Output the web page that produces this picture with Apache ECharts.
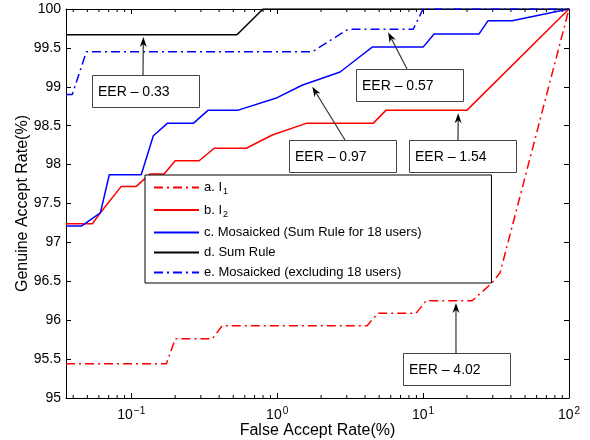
<!DOCTYPE html>
<html>
<head>
<meta charset="utf-8">
<script src="https://cdn.jsdelivr.net/npm/echarts@6/dist/echarts.min.js"></script>
<style>
html,body{margin:0;padding:0;background:#fff;}
#chart{width:590px;height:440px;}
</style>
</head>
<body>
<div id="chart"></div>
<script>
// ---- data ----
var seriesNames = ['a. I{sub|1}', 'b. I{sub|2}', 'c. Mosaicked (Sum Rule for 18 users)', 'd. Sum Rule', 'e. Mosaicked (excluding 18 users)'];

var aX = [0.0357, 0.174, 0.200, 0.359, 0.420, 4.13, 4.92, 8.96, 10.5, 21.7, 29.7, 33.7, 100];
var aY = [95.44, 95.44, 95.76, 95.76, 95.93, 95.93, 96.09, 96.09, 96.25, 96.25, 96.48, 96.61, 100];

var bX = [0.0357, 0.0541, 0.0614, 0.0854, 0.108, 0.135, 0.168, 0.200, 0.292, 0.370, 0.614, 0.925, 1.58, 4.55, 5.58, 20.0, 100];
var bY = [97.24, 97.24, 97.38, 97.72, 97.72, 97.88, 97.88, 98.05, 98.05, 98.21, 98.21, 98.38, 98.53, 98.53, 98.70, 98.70, 100];

var cX = [0.0357, 0.0455, 0.0614, 0.0707, 0.117, 0.1416, 0.1766, 0.266, 0.337, 0.541, 1.0, 1.48, 2.70, 3.59, 4.48, 10.0, 11.9, 24.2, 27.9, 40.7, 100];
var cY = [97.21, 97.21, 97.38, 97.87, 97.87, 98.37, 98.53, 98.53, 98.70, 98.70, 98.86, 99.02, 99.19, 99.37, 99.51, 99.51, 99.68, 99.68, 99.85, 99.85, 100];

var dX = [0.0357, 0.53, 0.80, 100];
var dY = [99.67, 99.67, 100, 100];

var eX = [0.0357, 0.0394, 0.0492, 1.74, 3.06, 8.55, 10.0, 100];
var eY = [98.90, 98.90, 99.45, 99.45, 99.74, 99.74, 100, 100];

var xMin = 0.0357, xMax = 100;
var yMin = 95, yMax = 100, yInterval = 0.5;

var minorTickValues = [0.04,0.05,0.06,0.07,0.08,0.09, 0.2,0.3,0.4,0.5,0.6,0.7,0.8,0.9, 2,3,4,5,6,7,8,9, 20,30,40,50,60,70,80,90];

var annTexts = ['EER \u2013 0.33', 'EER \u2013 0.57', 'EER \u2013 0.97', 'EER \u2013 1.54', 'EER \u2013 4.02'];
var annTargetX = [0.121, 5.76, 1.74, 17.4, 16.8];
var annTargetY = [99.64, 99.70, 99.00, 98.66, 96.22];

// ---- layout (pixels) ----
var annBoxes = [[92,75],[356,69],[289,140],[409,140],[403,353]];
var annArrowStartX = [143, 407, 345, 458, 456];
var boxW = 107, boxH = 32;

function zip(xs, ys){ var r=[]; for(var i=0;i<xs.length;i++) r.push([xs[i], ys[i]]); return r; }

var FONT = '"Liberation Sans", Arial, Helvetica, sans-serif';

var chart = echarts.init(document.getElementById('chart'), null, {renderer:'canvas'});

var dashDot = [9,4,2,4];

var option = {
  animation: false,
  backgroundColor: '#fff',
  textStyle: {fontFamily: FONT, color:'#000'},
  grid: {left: 66, right: 21, top: 9, bottom: 42, containLabel: false, outerBoundsMode: 'none'},
  legend: {
    data: seriesNames,
    orient: 'vertical',
    left: 145, top: 175,
    padding: [6, 70, 4, 8],
    itemGap: 7,
    itemWidth: 45,
    itemHeight: 14,
    borderColor: '#000',
    borderWidth: 1,
    backgroundColor: '#fff',
    itemStyle: {opacity: 0},
    textStyle: {
      fontFamily: FONT, fontSize: 13, color: '#000',
      rich: { sub: {fontFamily: FONT, fontSize: 9, color:'#000', padding:[9,0,0,1]} }
    }
  },
  xAxis: [{
    type: 'log', logBase: 10, min: xMin, max: xMax,
    name: 'False Accept Rate(%)', nameLocation: 'middle', nameGap: 25, nameMoveOverlap: false,
    nameTextStyle: {fontFamily: FONT, fontSize: 16, color:'#000'},
    axisLine: {lineStyle: {color:'#000', width: 1}},
    axisTick: {inside: true, length: 5, lineStyle:{color:'#000'}},
    splitLine: {show: false},
    axisLabel: {
      showMinLabel: false, margin: 8, color:'#000', fontFamily: FONT, fontSize: 14,
      formatter: function(v){ var e = Math.round(Math.log10(v)); return '10{sup|' + (e<0 ? '\u2212'+(-e) : e) + '}'; },
      rich: { sup: {fontFamily: FONT, fontSize: 10, color:'#000', padding:[0,0,9,1]} }
    }
  },{
    type: 'log', logBase: 10, min: xMin, max: xMax, position: 'top',
    axisLine: {lineStyle: {color:'#000', width: 1}},
    axisTick: {inside: true, length: 5, lineStyle:{color:'#000'}},
    axisLabel: {show: false}, splitLine: {show:false}
  }],
  yAxis: [{
    type: 'value', min: yMin, max: yMax, interval: yInterval,
    name: 'Genuine Accept Rate(%)', nameLocation: 'middle', nameGap: 35, nameMoveOverlap: false,
    nameTextStyle: {fontFamily: FONT, fontSize: 16, color:'#000'},
    axisLine: {show: true, lineStyle: {color:'#000', width: 1}},
    axisTick: {show: true, inside: true, length: 5, lineStyle:{color:'#000'}},
    splitLine: {show: false},
    axisLabel: {color:'#000', fontFamily: FONT, fontSize: 14, margin: 5}
  },{
    type: 'value', min: yMin, max: yMax, interval: yInterval, position: 'right',
    axisLine: {show: true, lineStyle: {color:'#000', width: 1}},
    axisTick: {show: true, inside: true, length: 5, lineStyle:{color:'#000'}},
    splitLine: {show: false}, axisLabel: {show: false}
  }],
  series: [
    {
      type: 'custom', name: 'minorTicks', silent: true, legendHoverLink:false,
      data: minorTickValues.map(function(v){return [v, yMin];}),
      renderItem: function(params, api){
        var p = api.coord([api.value(0), yMin]);
        var cs = params.coordSys;
        return {type:'group', children:[
          {type:'line', shape:{x1:p[0], y1:cs.y+cs.height, x2:p[0], y2:cs.y+cs.height-3}, style:{stroke:'#000', lineWidth:1}},
          {type:'line', shape:{x1:p[0], y1:cs.y, x2:p[0], y2:cs.y+3}, style:{stroke:'#000', lineWidth:1}}
        ]};
      }
    },
    {name: seriesNames[0], type:'line', data: zip(aX,aY), symbol:'none', lineStyle:{color:'#ff0000', width:1.5, type: dashDot}, itemStyle:{color:'#ff0000'}},
    {name: seriesNames[1], type:'line', data: zip(bX,bY), symbol:'none', lineStyle:{color:'#ff0000', width:1.5}, itemStyle:{color:'#ff0000'}},
    {name: seriesNames[2], type:'line', data: zip(cX,cY), symbol:'none', lineStyle:{color:'#0000ff', width:1.5}, itemStyle:{color:'#0000ff'}},
    {name: seriesNames[3], type:'line', data: zip(dX,dY), symbol:'none', lineStyle:{color:'#000000', width:1.5}, itemStyle:{color:'#000000'}},
    {name: seriesNames[4], type:'line', data: zip(eX,eY), symbol:'none', lineStyle:{color:'#0000ff', width:1.5, type: dashDot}, itemStyle:{color:'#0000ff'}}
  ]
};
chart.setOption(option);

// annotations: arrows point at data positions converted through the chart's scales
var graphics = [];
for (var i=0;i<annTexts.length;i++){
  var tip = chart.convertToPixel({xAxisIndex:0, yAxisIndex:0}, [annTargetX[i], annTargetY[i]]);
  var bx = annBoxes[i][0], by = annBoxes[i][1];
  var sx = annArrowStartX[i], sy = by;
  var dx = tip[0]-sx, dy = tip[1]-sy, len = Math.sqrt(dx*dx+dy*dy);
  var ux = dx/len, uy = dy/len, nx = -uy, ny = ux;
  var hl = 10, hw = 3.5, notch = 7;
  var baseX = tip[0]-ux*hl, baseY = tip[1]-uy*hl;
  var notchX = tip[0]-ux*notch, notchY = tip[1]-uy*notch;
  graphics.push({type:'line', z:100, shape:{x1:sx, y1:sy, x2:notchX, y2:notchY}, style:{stroke:'#333', lineWidth:1.2}});
  graphics.push({type:'polygon', z:100, shape:{points:[[tip[0],tip[1]],[baseX+nx*hw, baseY+ny*hw],[notchX,notchY],[baseX-nx*hw, baseY-ny*hw]]}, style:{fill:'#000'}});
  graphics.push({type:'rect', z:100, shape:{x:bx+0.5, y:by+0.5, width:boxW, height:boxH}, style:{fill:'#fff', stroke:'#444', lineWidth:1}});
  graphics.push({type:'text', z:101, x:bx+6, y:by+boxH/2+1, style:{text:annTexts[i], fill:'#000', font:'14px ' + FONT, verticalAlign:'middle', textVerticalAlign:'middle'}});
}
chart.setOption({graphic: graphics});
</script>
</body>
</html>
